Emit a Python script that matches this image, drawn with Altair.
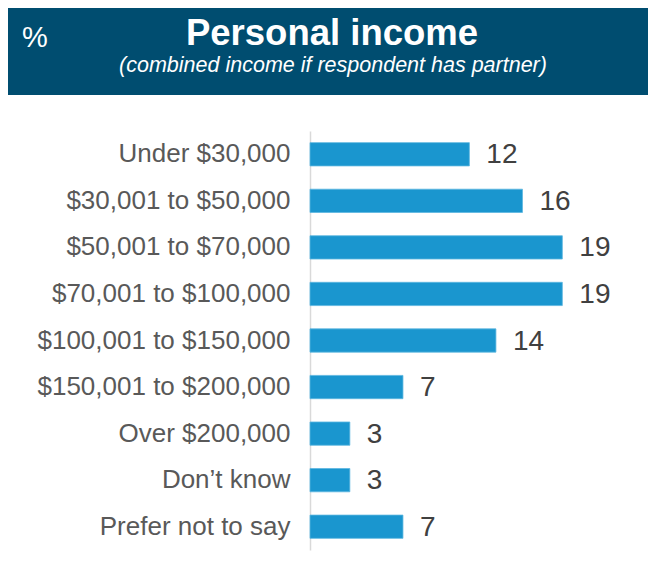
import altair as alt
import pandas as pd

categories = [
    "Under $30,000",
    "$30,001 to $50,000",
    "$50,001 to $70,000",
    "$70,001 to $100,000",
    "$100,001 to $150,000",
    "$150,001 to $200,000",
    "Over $200,000",
    "Don\u2019t know",
    "Prefer not to say",
]
values = [12, 16, 19, 19, 14, 7, 3, 3, 7]

unit_label = "%"
title_text = "Personal income"
subtitle_text = "(combined income if respondent has partner)"

FONT = "Liberation Sans"
HEADER = "#004d70"
BAR = "#1a96cf"

df = pd.DataFrame({"category": categories, "value": values})
one = pd.DataFrame({"k": [0]})

LEFT = 302   # plot area left edge (chart coords)
TOP = 123    # plot area top edge (chart coords)
W = 332
H = 419
RIGHT = 6

# header decoration (pixel positions relative to plot area origin)
band = alt.Chart(one).mark_rect(color=HEADER).encode(
    x=alt.value(-LEFT), x2=alt.value(W + RIGHT), y=alt.value(-TOP), y2=alt.value(-TOP + 87)
)
pct = alt.Chart(one).mark_text(
    text=unit_label, font=FONT, fontSize=29, color="white", align="left", baseline="alphabetic"
).encode(x=alt.value(-LEFT + 14), y=alt.value(-TOP + 39))
ttl = alt.Chart(one).mark_text(
    text=title_text, font=FONT, fontSize=36.5, fontWeight="bold", color="white",
    align="center", baseline="alphabetic"
).encode(x=alt.value(-LEFT + 324), y=alt.value(-TOP + 37))
sub = alt.Chart(one).mark_text(
    text=subtitle_text, font=FONT, fontSize=21.5, fontStyle="italic", color="white",
    align="center", baseline="alphabetic"
).encode(x=alt.value(-LEFT + 325), y=alt.value(-TOP + 64))

base = alt.Chart(df).encode(
    y=alt.Y(
        "category:N",
        sort=categories,
        scale=alt.Scale(paddingInner=0.5, paddingOuter=0.25),
        axis=alt.Axis(
            title=None, ticks=False, grid=False, domainColor="#d9d9d9", domainWidth=1.5,
            labelFont=FONT, labelFontSize=26, labelColor="#595959", labelPadding=20,
            labelLimit=400,
        ),
    ),
    x=alt.X("value:Q", scale=alt.Scale(domain=[0, 25], nice=False), axis=None),
)
bars = base.mark_bar(color=BAR, stroke="#5cb6e0", strokeWidth=0.8)
labels = base.mark_text(
    align="left", baseline="middle", dx=17, dy=1, font=FONT, fontSize=28, color="#404040"
).encode(text="value:Q")

chart = alt.layer(bars, labels, band, pct, ttl, sub).properties(
    width=W,
    height=H,
    autosize=alt.AutoSizeParams(type="none"),
    padding={"left": LEFT, "top": TOP, "right": RIGHT, "bottom": 10},
    background="white",
).configure_view(stroke=None)

chart.save("out.html", embed_options={"renderer": "svg", "actions": False})
